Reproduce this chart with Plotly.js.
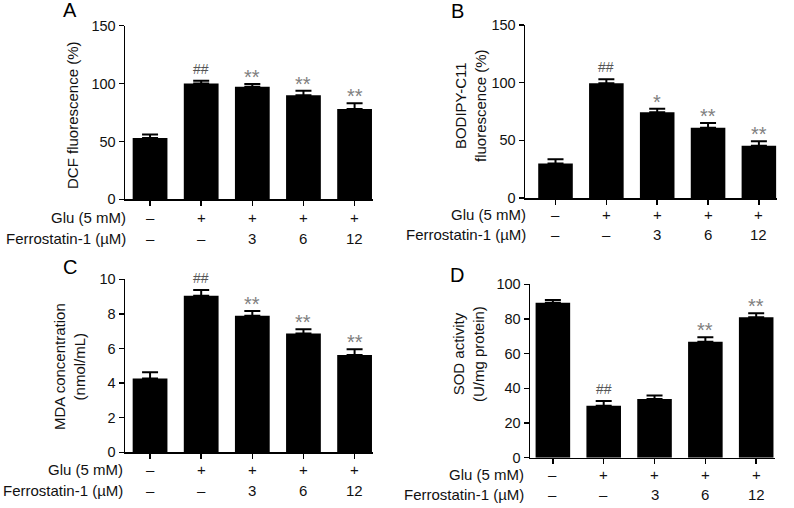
<!DOCTYPE html>
<html><head><meta charset="utf-8">
<script src="https://cdn.plot.ly/plotly-3.0.1.min.js"></script>
<style>html,body{margin:0;padding:0;background:#fff}#chart{width:794px;height:508px}</style>
</head><body><div id="chart"></div>
<script>
// ---- data ----
const groups = [0, 1, 2, 3, 4];
const gluRow = ['–', '+', '+', '+', '+'];
const ferroRow = ['–', '–', '3', '6', '12'];
const rowLabels = ['Glu (5 mM)', 'Ferrostatin-1 (µM)'];

const dcfVal = [53, 100, 97.3, 90, 78];
const dcfErr = [3, 2.5, 2.3, 3.8, 5];
const dcfSig = ['', '##', '**', '**', '**'];

const bodipyVal = [30, 99.5, 74.3, 61, 45.3];
const bodipyErr = [3.5, 3.5, 3, 4, 4];
const bodipySig = ['', '##', '*', '**', '**'];

const mdaVal = [4.27, 9.05, 7.9, 6.86, 5.62];
const mdaErr = [0.35, 0.33, 0.27, 0.25, 0.33];
const mdaSig = ['', '##', '**', '**', '**'];

const sodVal = [89.4, 30, 33.9, 66.9, 81];
const sodErr = [1.6, 2.7, 1.9, 2.6, 2.3];
const sodSig = ['', '##', '', '**', '**'];

// ---- layout config ----
const W = 794, H = 508;
const FONT = 'Arial, "Liberation Sans", sans-serif';
const panels = [
  {vals: dcfVal, errs: dcfErr, sig: dcfSig, n: '', xdom: [125, 373], ydom: [25.7, 199.3], xr: [-0.49, 4.36], yr: [0, 150], dtick: 50,
   title: 'DCF fluorescence (%)', tx: 72, ty: 115, letter: 'A', lx: 70, ly: 10, rowRight: 128, rowShift: [18, 39]},
  {vals: bodipyVal, errs: bodipyErr, sig: bodipySig, n: '2', xdom: [525, 776.7], ydom: [25, 198], xr: [-0.6, 4.35], yr: [0, 150], dtick: 50,
   title: 'BODIPY-C11<br>fluorescence (%)', tx: 471, ty: 106, letter: 'B', lx: 458, ly: 11, rowRight: 528, rowShift: [16, 36]},
  {vals: mdaVal, errs: mdaErr, sig: mdaSig, n: '3', xdom: [125, 373], ydom: [279.3, 452.3], xr: [-0.49, 4.36], yr: [0, 10], dtick: 2,
   title: 'MDA concentration<br>(nmol/mL)', tx: 69, ty: 367, letter: 'C', lx: 70, ly: 267, rowRight: 124.5, rowShift: [17, 38]},
  {vals: sodVal, errs: sodErr, sig: sodSig, n: '4', xdom: [530, 775], ydom: [284.3, 457.7], xr: [-0.45, 4.37], yr: [0, 100], dtick: 20,
   title: 'SOD activity<br>(U/mg protein)', tx: 468, ty: 354, letter: 'D', lx: 457, ly: 274.5, rowRight: 526, rowShift: [16.5, 36.5]}
];

const data = [];
const layout = {
  width: W, height: H, margin: {l: 0, r: 0, t: 0, b: 0},
  paper_bgcolor: '#fff', plot_bgcolor: '#fff', showlegend: false,
  font: {family: FONT, size: 15, color: '#111'},
  annotations: []
};

panels.forEach(p => {
  const xa = 'x' + p.n, ya = 'y' + p.n;
  data.push({
    type: 'bar', x: groups, y: p.vals, xaxis: xa, yaxis: ya, width: 0.68,
    marker: {color: '#000', line: {width: 0}},
    error_y: {type: 'data', symmetric: false, array: p.errs, arrayminus: p.errs.map(() => 0),
              color: '#000', thickness: 2, width: 8},
    hoverinfo: 'none'
  });
  layout['xaxis' + p.n] = {
    domain: [p.xdom[0] / W, p.xdom[1] / W], range: p.xr, anchor: ya,
    showgrid: false, zeroline: false, showline: true, linecolor: '#000', linewidth: 1.5,
    ticks: 'outside', ticklen: 5, tickwidth: 1.5, tickcolor: '#000',
    tickvals: groups, ticktext: groups.map(() => ''), fixedrange: true
  };
  layout['yaxis' + p.n] = {
    domain: [1 - p.ydom[1] / H, 1 - p.ydom[0] / H], range: p.yr, anchor: xa,
    showgrid: false, zeroline: false, showline: true, linecolor: '#000', linewidth: 1.5,
    ticks: 'outside', ticklen: 5, tickwidth: 1.5, tickcolor: '#000',
    tick0: 0, dtick: p.dtick, tickfont: {family: FONT, size: 14.5, color: '#111'}, fixedrange: true
  };

  layout.annotations.push({text: p.letter, xref: 'paper', yref: 'paper', x: p.lx / W, y: 1 - p.ly / H,
    xanchor: 'center', yanchor: 'middle', showarrow: false, font: {family: FONT, size: 20, color: '#000'}});
  layout.annotations.push({text: p.title, xref: 'paper', yref: 'paper', x: p.tx / W, y: 1 - p.ty / H,
    xanchor: 'center', yanchor: 'middle', textangle: -90, showarrow: false,
    font: {family: FONT, size: 15, color: '#111'}});
  rowLabels.forEach((lab, r) => {
    layout.annotations.push({text: lab, xref: 'paper', yref: ya, x: p.rowRight / W, y: 0, yshift: -p.rowShift[r],
      xanchor: 'right', yanchor: 'middle', showarrow: false, font: {family: FONT, size: 15, color: '#111'}});
  });
  groups.forEach(g => {
    [gluRow, ferroRow].forEach((row, r) => {
      layout.annotations.push({text: row[g], xref: xa, yref: ya, x: g, y: 0, yshift: -p.rowShift[r],
        xanchor: 'center', yanchor: 'middle', showarrow: false, font: {family: FONT, size: 15, color: '#111'}});
    });
    const s = p.sig[g];
    if (s) {
      const isHash = s.indexOf('#') >= 0;
      layout.annotations.push({text: s, xref: xa, yref: ya, x: g, y: p.vals[g] + p.errs[g],
        yshift: isHash ? 2 : -6, xanchor: 'center', yanchor: 'bottom', showarrow: false,
        font: {family: FONT, size: isHash ? 14 : 20, color: isHash ? '#555' : '#808080'}});
    }
  });
});

Plotly.newPlot('chart', data, layout, {staticPlot: true, displayModeBar: false});
</script>
</body></html>
